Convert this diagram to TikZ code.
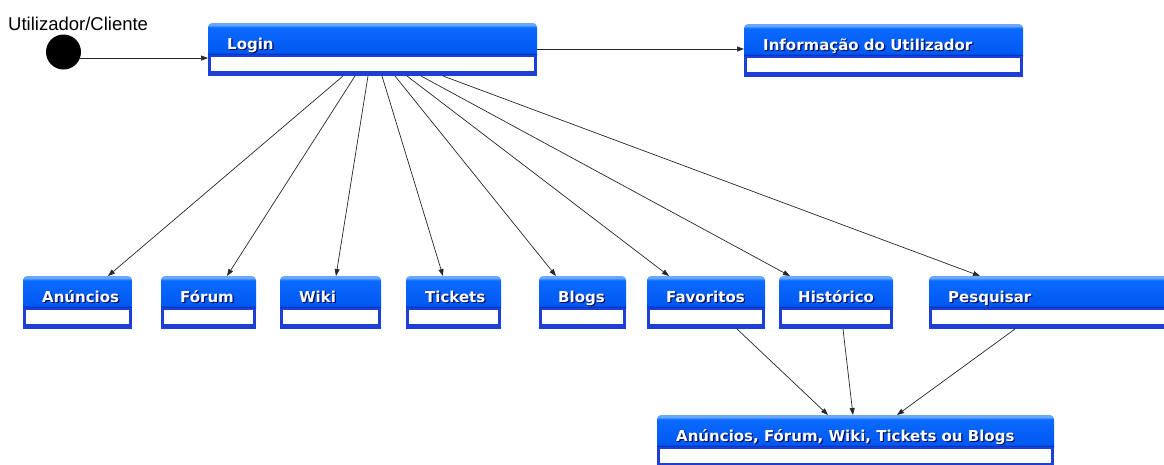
\documentclass[tikz,border=0pt]{standalone}
\usepackage{fontspec}
\setmainfont{DejaVu Sans}
\newfontfamily\panelfont{DejaVu Sans}
\newfontfamily\actorfont{Liberation Sans}
\usetikzlibrary{arrows.meta}

\definecolor{hdrtop}{HTML}{6AA8FF}
\definecolor{hdrmid}{HTML}{0A6AFF}
\definecolor{hdrlow}{HTML}{0058F0}
\definecolor{hdrline}{HTML}{0034C4}
\definecolor{framecol}{HTML}{1D3FD6}
\definecolor{shadowcol}{HTML}{000A5C}

% header gradient: bottom line, body, light top rim
\pgfdeclareverticalshading{hdrshade}{100bp}{color(0bp)=(hdrline); color(33bp)=(hdrline);
  color(35bp)=(hdrlow); color(69bp)=(hdrmid); color(72.5bp)=(hdrtop); color(100bp)=(hdrtop)}

\tikzset{
  panelnode/.style={rectangle, inner sep=0pt, outer sep=0pt, minimum height=53pt, anchor=north west},
  paneltext/.style={anchor=base west, inner sep=0pt, font=\panelfont\bfseries\fontsize{15}{18}\selectfont},
  arr/.style={-{Triangle[length=7pt,width=5pt]}, line width=0.7pt, draw=black!85},
}

% #1 name, #2 left, #3 top, #4 width, #5 label
\newcommand\drawpanel[5]{%
  \node[panelnode, minimum width=#4pt] (#1) at (#2,#3) {};
  \shade[shading=hdrshade, rounded corners=4pt] (#1.north west) rectangle ([yshift=-37pt]#1.north east);
  \fill[framecol] ([yshift=-32pt]#1.north west) rectangle (#1.south east);
  \fill[white] ([xshift=3pt,yshift=-34pt]#1.north west) rectangle ([xshift=-3.5pt,yshift=5pt]#1.south east);
  \node[paneltext, text=shadowcol] (#1-s) at ([xshift=20.2pt,yshift=-27.2pt]#1.north west) {#5};
  \node[paneltext, text=white] (#1-t) at ([xshift=19pt,yshift=-26pt]#1.north west) {#5};
}

\begin{document}
\begin{tikzpicture}[x=1pt,y=-1pt]
\useasboundingbox (0,0) rectangle (1164,464);
\clip (0,0) rectangle (1164,464);

% actor
\node[anchor=base west, inner sep=0pt, font=\actorfont\fontsize{18.5}{20}\selectfont] (actor-label) at (8,30) {Utilizador/Cliente};
\node[circle, fill=black, minimum size=35pt, inner sep=0pt] (actor) at (63.5,52) {};

% panels
\drawpanel{login}{208}{23}{329}{Login}
\drawpanel{info}{744}{24}{279}{Informação do Utilizador}
\drawpanel{anun}{23}{276}{109}{Anúncios}
\drawpanel{forum}{161}{276}{95}{Fórum}
\drawpanel{wiki}{280}{276}{101}{Wiki}
\drawpanel{tick}{406}{276}{95}{Tickets}
\drawpanel{blogs}{539}{276}{87}{Blogs}
\drawpanel{fav}{647}{276}{118}{Favoritos}
\drawpanel{hist}{779}{276}{114}{Histórico}
\drawpanel{pesq}{929}{276}{260}{Pesquisar}
\drawpanel{all}{657}{415}{397}{Anúncios, Fórum, Wiki, Tickets ou Blogs}

% connectors
\draw[arr] (actor.-20) -- (actor.-20 -| login.west);
\draw[arr] ([yshift=-26pt]login.north east) -- ([yshift=-26pt]login.north east -| info.west);

\draw[arr] ([xshift=135pt]login.south west) -- ([xshift=85pt]anun.north west);
\draw[arr] ([xshift=147pt]login.south west) -- ([xshift=66pt]forum.north west);
\draw[arr] ([xshift=160pt]login.south west) -- ([xshift=56pt]wiki.north west);
\draw[arr] ([xshift=174pt]login.south west) -- ([xshift=37pt]tick.north west);
\draw[arr] ([xshift=187pt]login.south west) -- ([xshift=17pt]blogs.north west);
\draw[arr] ([xshift=199pt]login.south west) -- ([xshift=22pt]fav.north west);
\draw[arr] ([xshift=213pt]login.south west) -- ([xshift=11pt]hist.north west);
\draw[arr] ([xshift=235pt]login.south west) -- ([xshift=51pt]pesq.north west);

\draw[arr] ([xshift=90pt]fav.south west) -- ([xshift=171pt]all.north west);
\draw[arr] ([xshift=64pt]hist.south west) -- ([xshift=196pt]all.north west);
\draw[arr] ([xshift=86pt]pesq.south west) -- ([xshift=240pt]all.north west);
\end{tikzpicture}
\end{document}
